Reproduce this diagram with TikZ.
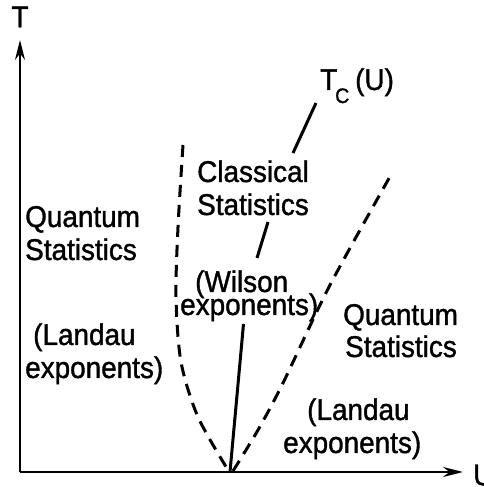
\documentclass[tikz,border=0pt]{standalone}
\usepackage{fontspec}
\setmainfont[FakeBold=1.2,FakeStretch=0.93]{Liberation Sans}
\usetikzlibrary{arrows.meta}
\begin{document}
\begin{tikzpicture}[x=1pt,y=1pt,
  lbl/.style={anchor=base west,inner sep=0pt,font=\fontsize{30}{30}\selectfont},
  sublbl/.style={anchor=base west,inner sep=0pt,font=\fontsize{21}{22}\selectfont},
  axis/.style={line width=2pt,-{Stealth[length=20pt,width=10pt]}},
  tcline/.style={line width=3pt},
  phase/.style={line width=3pt,dash pattern=on 12pt off 8pt}]
\useasboundingbox (0,0) rectangle (484,487);
\coordinate (O) at (20,15);
\coordinate (Ytip) at (20,447);
\coordinate (Xtip) at (463,15);
\draw[axis] (O) -- (Ytip);
\draw[axis] (O) -- (Xtip);
\node[anchor=center,inner sep=0pt,font=\fontsize{30}{30}\selectfont] (T) at (20,470) {T};
\node[anchor=west,inner sep=0pt,font=\fontsize{30}{30}\selectfont] (U) at (473,12) {U};
% critical line T_c(U)
\coordinate (c0) at (230,15);
\coordinate (c1) at (243.5,163);
\coordinate (c2) at (257,229);
\coordinate (c3) at (268,265);
\coordinate (c4) at (293,334);
\coordinate (c5) at (316,384);
\draw[tcline] (c0) -- (c1);
\draw[tcline] (c2) -- (c3);
\draw[tcline] (c4) -- (c5);
% dashed crossover lines
\draw[phase] plot[smooth] coordinates {(183,342) (178,260) (176,190) (181,125) (198,70) (228,17)};
\draw[phase] plot[smooth] coordinates {(233,16) (258,57) (283,104) (330,202) (392,314)};
% labels
\node[lbl] (tc) at (320,397) {T};
\node[sublbl] (tcsub) at (335,384) {C};
\node[lbl] (tcu) at (355,397) {(U)};
\node[lbl] (lq) at (25,260) {Quantum};
\node[lbl] (ls) at (25,227) {Statistics};
\node[lbl] (ll) at (33,142) {(Landau};
\node[lbl] (le) at (25,109) {exponents)};
\node[lbl] (cc) at (197,305) {Classical};
\node[lbl] (cs) at (197,272) {Statistics};
\node[lbl] (cw) at (195,195) {(Wilson};
\node[lbl] (ce) at (180,172) {exponents)};
\node[lbl] (rq) at (343,162) {Quantum};
\node[lbl] (rs) at (345,130) {Statistics};
\node[lbl] (rl) at (307,67) {(Landau};
\node[lbl] (re) at (283,34) {exponents)};
\end{tikzpicture}
\end{document}
